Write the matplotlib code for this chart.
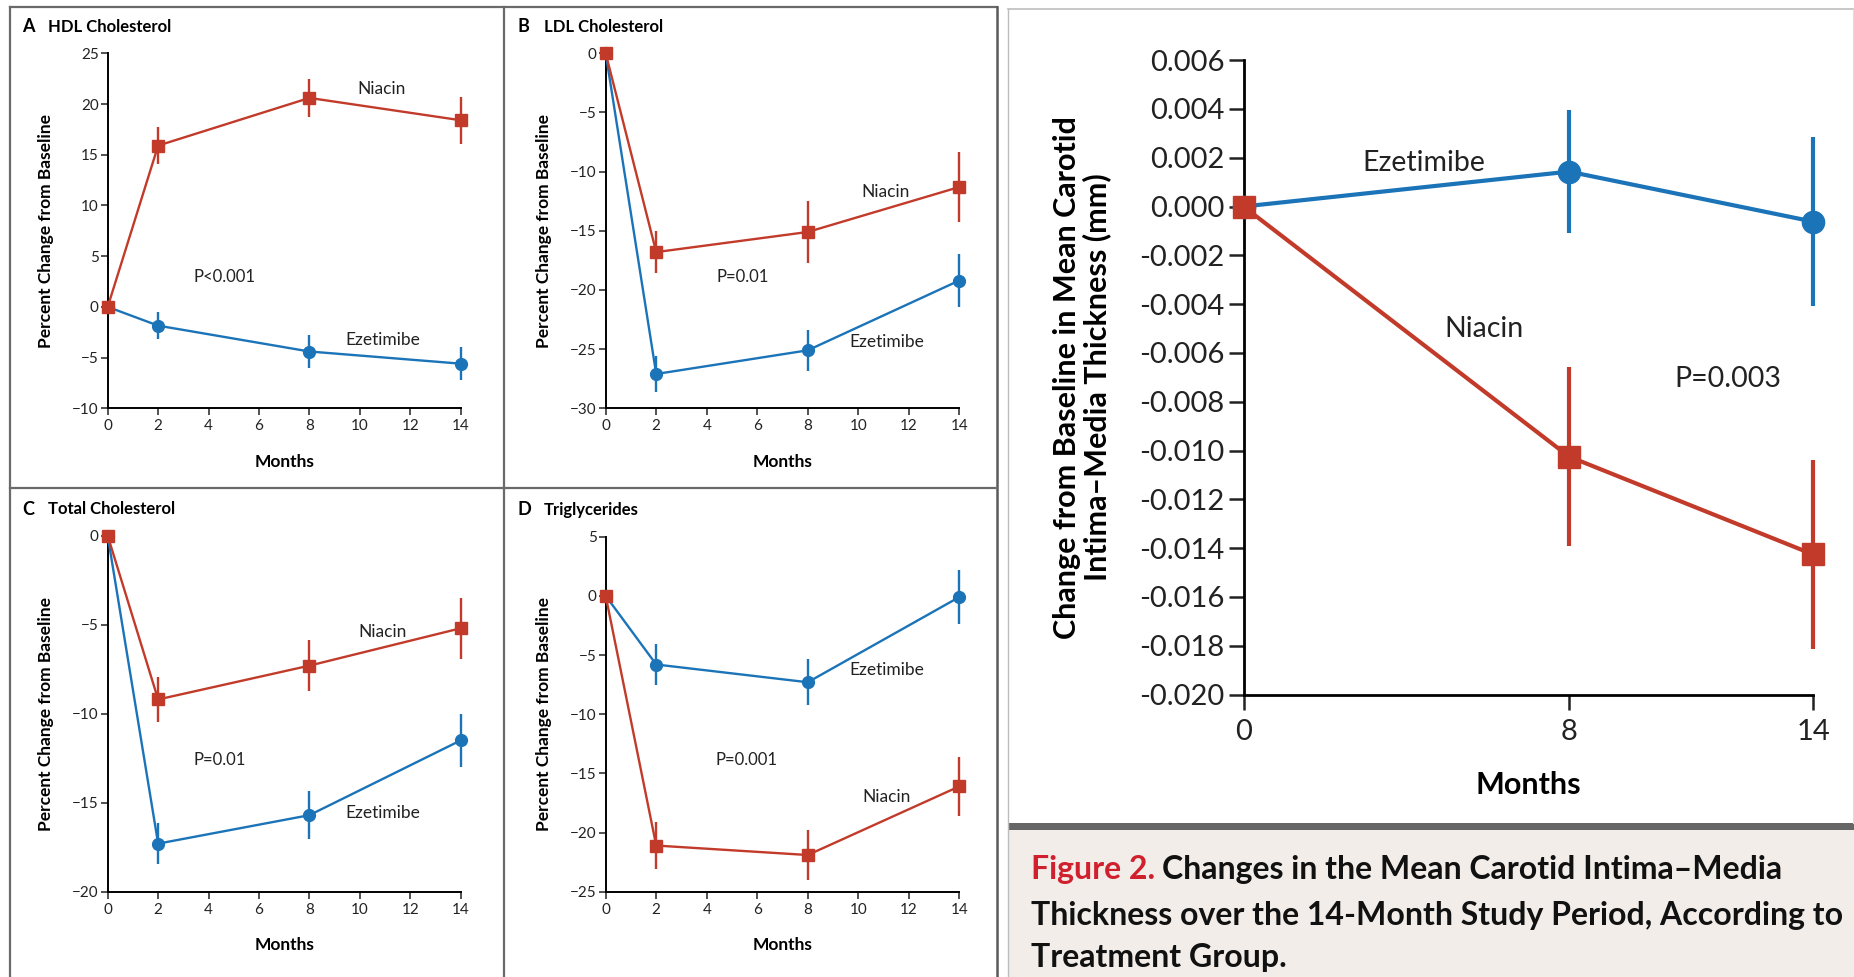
import matplotlib
matplotlib.use("Agg")
import matplotlib.pyplot as plt
from matplotlib.patches import Rectangle
from matplotlib.lines import Line2D

plt.rcParams['font.family'] = ['Lato', 'DejaVu Sans']

# ---------------- data ----------------
months = [0, 2, 8, 14]
month_ticks = [0, 2, 4, 6, 8, 10, 12, 14]

hdl_niacin = [0, 15.9, 20.6, 18.4]
hdl_niacin_err = [0, 1.8, 1.85, 2.3]
hdl_ezet = [0, -1.85, -4.4, -5.6]
hdl_ezet_err = [0, 1.35, 1.65, 1.6]

ldl_niacin = [0, -16.8, -15.1, -11.3]
ldl_niacin_err = [0, 1.8, 2.65, 2.95]
ldl_ezet = [0, -27.1, -25.1, -19.2]
ldl_ezet_err = [0, 1.5, 1.75, 2.2]

tc_niacin = [0, -9.2, -7.3, -5.2]
tc_niacin_err = [0, 1.25, 1.45, 1.7]
tc_ezet = [0, -17.3, -15.7, -11.5]
tc_ezet_err = [0, 1.15, 1.35, 1.5]

tg_niacin = [0, -21.1, -21.9, -16.1]
tg_niacin_err = [0, 1.95, 2.1, 2.5]
tg_ezet = [0, -5.8, -7.3, -0.1]
tg_ezet_err = [0, 1.75, 1.95, 2.25]

imt_months = [0, 8, 14]
imt_niacin = [0, -0.01025, -0.01426]
imt_niacin_err = [0, 0.00366, 0.00386]
imt_ezet = [0, 0.00143, -0.00062]
imt_ezet_err = [0, 0.00252, 0.00345]
imt_yticks = [0.006, 0.004, 0.002, 0.000, -0.002, -0.004, -0.006, -0.008,
              -0.010, -0.012, -0.014, -0.016, -0.018, -0.020]

RED = '#c23b2a'
BLUE = '#1b73b8'

W, H = 1854, 977
fig = plt.figure(figsize=(W / 100, H / 100), dpi=100)


def px_axes(x0, x1, ytop, ybot):
    return fig.add_axes([x0 / W, 1 - ybot / H, (x1 - x0) / W, (ybot - ytop) / H])


def frect(x0, y0, x1, y1, **kw):
    fig.patches.append(Rectangle((x0 / W, 1 - y1 / H), (x1 - x0) / W, (y1 - y0) / H,
                                 transform=fig.transFigure, **kw))


def fline(xs, ys, **kw):
    fig.add_artist(Line2D([x / W for x in xs], [1 - y / H for y in ys],
                          transform=fig.transFigure, **kw))


# ---------------- frames ----------------
GRAY = '#6a6a6a'
fline([9.5, 9.5], [6.8, 977], color=GRAY, lw=1.6)
fline([9.5, 997.3], [6.8, 6.8], color=GRAY, lw=1.6)
fline([997.3, 997.3], [6.8, 977], color='#5a5a5a', lw=1.8)
fline([504.3, 504.3], [6.8, 977], color=GRAY, lw=1.6)
fline([9.5, 997.3], [487.7, 487.7], color=GRAY, lw=1.6)

# right panel frame and caption box
frect(1007.7, 823, 1854, 829.5, color='#666666', lw=0)
frect(1007.7, 829.5, 1854, 977, color='#f2ede9', lw=0)
fline([1007.7, 1007.7], [9.3, 977], color='#bdbdbd', lw=1.0)
fline([1007.7, 1854], [9.3, 9.3], color='#bdbdbd', lw=1.2)
fline([1852.5, 1852.5], [9.3, 823], color='#dddddd', lw=0.8)


def draw_series(ax, x, y, err, color, marker, ms, lw, z):
    ax.errorbar(x, y, yerr=err, color=color, lw=lw, elinewidth=lw, capsize=0,
                marker=marker, ms=ms, mec=color, mfc=color, zorder=z, clip_on=False)


def small_panel(ax, letter, title, ylim, yticks, series, labels, ptext, tx, ty):
    for (y, err, color, marker, ms, z) in series:
        draw_series(ax, months, y, err, color, marker, ms, 1.7, z)
    ax.set_xlim(0, 14)
    ax.set_ylim(*ylim)
    ax.set_xticks(month_ticks)
    ax.set_yticks(yticks)
    for s in ['top', 'right']:
        ax.spines[s].set_visible(False)
    for s in ['left', 'bottom']:
        ax.spines[s].set_linewidth(1.4)
    ax.tick_params(direction='out', length=5, width=1.1, labelsize=11,
                   colors='#222222')
    ax.tick_params(axis='y', pad=1.5)
    ax.tick_params(axis='x', pad=3)
    ax.set_ylabel('Percent Change from Baseline', fontsize=12.5, fontweight='bold')
    ax.yaxis.set_label_coords(-0.152, 0.5)
    ax.set_xlabel('Months', fontsize=12.5, fontweight='bold')
    ax.xaxis.set_label_coords(0.5, -0.128)
    for (txt, x, y) in labels:
        ax.text(x, y, txt, fontsize=12.5, ha='center', va='center', color='#222222')
    ax.text(ptext[1], ptext[2], ptext[0], fontsize=12, ha='center', va='center',
            color='#222222')
    fig.text(tx / W, 1 - ty / H, letter, fontsize=13, fontweight='bold',
             va='center', ha='left')
    fig.text((tx + 26) / W, 1 - ty / H, title, fontsize=12, fontweight='bold',
             va='center', ha='left')


axA = px_axes(107.7, 460.7, 53.3, 408.3)
small_panel(axA, 'A', 'HDL Cholesterol', (-10, 25), [-10, -5, 0, 5, 10, 15, 20, 25],
            [(hdl_ezet, hdl_ezet_err, BLUE, 'o', 8.5, 3),
             (hdl_niacin, hdl_niacin_err, RED, 's', 9, 4)],
            [('Niacin', 10.87, 21.5), ('Ezetimibe', 10.93, -3.3)],
            ('P<0.001', 4.65, 2.9), 22.5, 27)

axB = px_axes(605.7, 959.3, 53.3, 408.3)
small_panel(axB, 'B', 'LDL Cholesterol', (-30, 0), [-30, -25, -20, -15, -10, -5, 0],
            [(ldl_ezet, ldl_ezet_err, BLUE, 'o', 8.5, 3),
             (ldl_niacin, ldl_niacin_err, RED, 's', 9, 4)],
            [('Niacin', 11.1, -11.7), ('Ezetimibe', 11.12, -24.4)],
            ('P=0.01', 5.42, -18.9), 517.5, 27)

axC = px_axes(107.7, 460.7, 535.7, 891.7)
small_panel(axC, 'C', 'Total Cholesterol', (-20, 0), [-20, -15, -10, -5, 0],
            [(tc_ezet, tc_ezet_err, BLUE, 'o', 8.5, 3),
             (tc_niacin, tc_niacin_err, RED, 's', 9, 4)],
            [('Niacin', 10.89, -5.4), ('Ezetimibe', 10.93, -15.6)],
            ('P=0.01', 4.46, -12.6), 22.5, 509.5)

axD = px_axes(605.7, 959.3, 536.7, 891.7)
small_panel(axD, 'D', 'Triglycerides', (-25, 5), [-25, -20, -15, -10, -5, 0, 5],
            [(tg_ezet, tg_ezet_err, BLUE, 'o', 8.5, 3),
             (tg_niacin, tg_niacin_err, RED, 's', 9, 4)],
            [('Ezetimibe', 11.14, -6.3), ('Niacin', 11.11, -17.0)],
            ('P=0.001', 5.59, -13.9), 517.5, 509.5)

# ---------------- right panel ----------------
axR = px_axes(1243.5, 1813.2, 60.1, 694.5)
draw_series(axR, imt_months, imt_ezet, imt_ezet_err, BLUE, 'o', 16, 3.0, 3)
draw_series(axR, imt_months, imt_niacin, imt_niacin_err, RED, 's', 16, 3.0, 4)
axR.set_xlim(0, 14)
axR.set_ylim(-0.020, 0.006)
axR.set_xticks(imt_months)
axR.set_yticks(imt_yticks)
axR.set_yticklabels(['%.3f' % v if v != 0 else '0.000' for v in imt_yticks])
for s in ['top', 'right']:
    axR.spines[s].set_visible(False)
for s in ['left', 'bottom']:
    axR.spines[s].set_linewidth(2.0)
axR.tick_params(direction='out', length=10.5, width=1.8, labelsize=21,
                colors='#222222')
axR.tick_params(axis='y', pad=3)
axR.tick_params(axis='x', pad=7)
axR.set_ylabel('Change from Baseline in Mean Carotid\nIntima\u2013Media Thickness (mm)',
               fontsize=22, fontweight='bold', linespacing=1.05)
axR.yaxis.set_label_coords(-0.232, 0.5)
axR.set_xlabel('Months', fontsize=22, fontweight='bold')
axR.xaxis.set_label_coords(0.5, -0.12)
axR.text(4.43, 0.00178, 'Ezetimibe', fontsize=20.5, ha='center', va='center', color='#222222')
axR.text(5.9, -0.00504, 'Niacin', fontsize=20.5, ha='center', va='center', color='#222222')
axR.text(11.9, -0.00708, 'P=0.003', fontsize=20.5, ha='center', va='center', color='#222222')

# ---------------- caption ----------------
CAP_FS = 23
t_fig = fig.text(1031 / W, 1 - 869 / H, 'Figure 2.', fontsize=CAP_FS, fontweight='bold',
                 color='#d0202e', va='center', ha='left')
renderer = fig.canvas.get_renderer()
bb = t_fig.get_window_extent(renderer=renderer)
fig.text((bb.x1 + 7) / W, 1 - 869 / H,
         'Changes in the Mean Carotid Intima\u2013Media',
         fontsize=CAP_FS, fontweight='bold', color='#111111',
         va='center', ha='left')
fig.text(1031 / W, 1 - 915 / H,
         'Thickness over the 14-Month Study Period, According to',
         fontsize=CAP_FS, fontweight='bold', color='#111111',
         va='center', ha='left')
fig.text(1031 / W, 1 - 957 / H, 'Treatment Group.',
         fontsize=CAP_FS, fontweight='bold', color='#111111',
         va='center', ha='left')

fig.savefig('out.png', dpi=100, facecolor='white')
